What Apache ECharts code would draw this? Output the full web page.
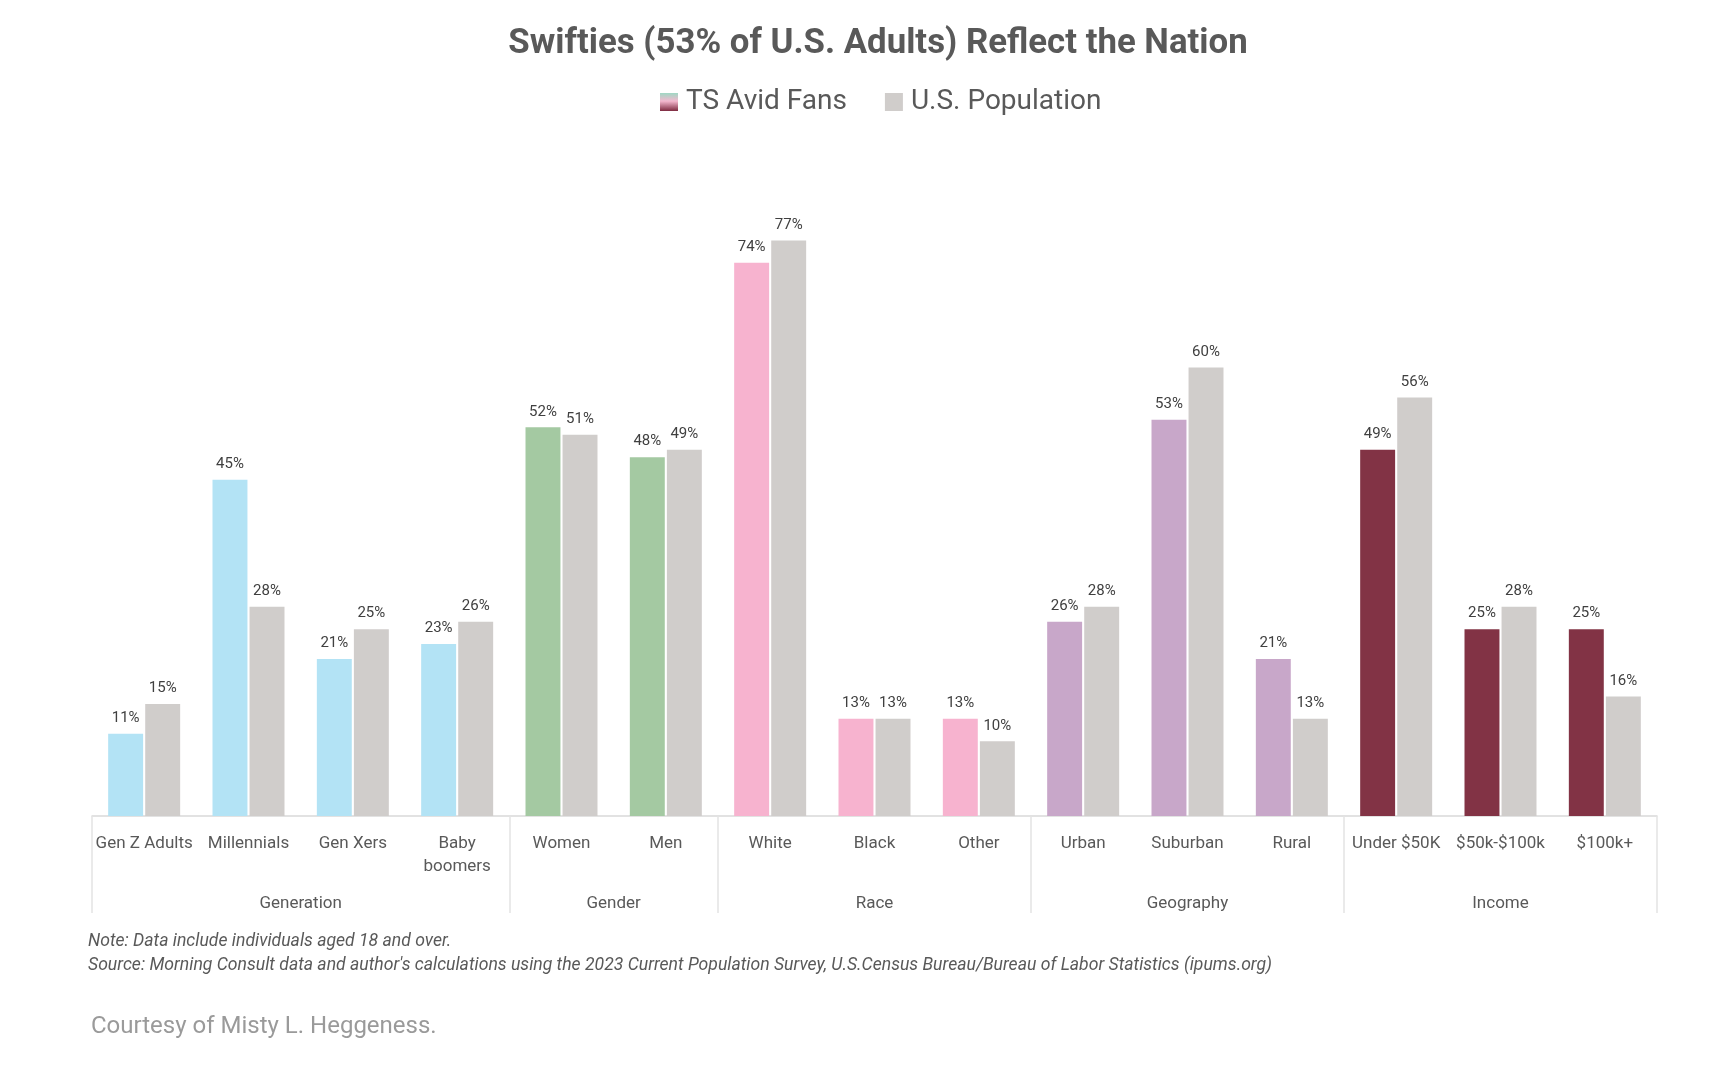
<!DOCTYPE html>
<html>
<head>
<meta charset="utf-8">
<script src="https://cdn.jsdelivr.net/npm/echarts@6/dist/echarts.min.js"></script>
<style>html,body{margin:0;padding:0;background:#fff}#c{width:1720px;height:1072px}</style>
</head>
<body>
<div id="c"></div>
<script>
const categories = ['Gen Z Adults','Millennials','Gen Xers','Baby\nboomers','Women','Men','White','Black','Other','Urban','Suburban','Rural','Under $50K','$50k-$100k','$100k+'];
const groups = ['Generation','Gender','Race','Geography','Income'];
const groupSizes = [4,2,3,3,3];
const tsFans = [11,45,21,23,52,48,74,13,13,26,53,21,49,25,25];
const usPop = [15,28,25,26,51,49,77,13,10,28,60,13,56,28,16];
const groupColors = ['#b3e3f5','#a4c9a2','#f7b3cf','#c8a7c9','#823345'];
const grayColor = '#d0cdcb';

// group boundaries and centres on a 0..15 value scale
const bounds = [0]; groupSizes.forEach(s => bounds.push(bounds[bounds.length-1] + s));
const centres = groupSizes.map((s,i) => bounds[i] + s/2);
const fanColors = [];
groupSizes.forEach((s,i) => { for (let k=0;k<s;k++) fanColors.push(groupColors[i]); });

const chart = echarts.init(document.getElementById('c'));
const FONT = 'Roboto';
chart.setOption({
  backgroundColor: '#fff',
  animation: false,
  title: {
    text: 'Swifties (53% of U.S. Adults) Reflect the Nation',
    left: 873, textAlign: 'center', top: 22,
    textStyle: {fontFamily: FONT, fontSize: 34.8, fontWeight: 'bold', color: '#595959'}
  },
  legend: {
    top: 83, left: 655, itemWidth: 18, itemHeight: 18, itemGap: 38, icon: 'rect',
    textStyle: {fontFamily: FONT, fontSize: 28, color: '#595959', padding: [0,0,0,3]},
    data: ['TS Avid Fans','U.S. Population']
  },
  grid: {left: 92, right: 63, top: 218, bottom: 256},
  xAxis: [{
    type: 'category', data: categories,
    axisLine: {lineStyle: {color: '#d9d9d9', width: 1.5}},
    axisTick: {show: false},
    axisLabel: {interval: 0, margin: 16, fontFamily: FONT, fontSize: 17, color: '#595959', lineHeight: 23}
  },{
    type: 'value', min: 0, max: 15, position: 'bottom',
    axisLine: {show: false},
    splitLine: {show: false},
    axisTick: {show: true, customValues: bounds, length: 97, lineStyle: {color: '#e3e3e3', width: 1.5}},
    axisLabel: {show: true, customValues: centres, margin: 79, fontFamily: FONT, fontSize: 17, color: '#595959',
      formatter: v => { const i = centres.indexOf(v); return i >= 0 ? groups[i] : ''; }}
  }],
  yAxis: {type: 'value', min: 0, max: 80, show: false, splitLine: {show: false}},
  series: [{
    name: 'TS Avid Fans', type: 'bar', xAxisIndex: 0,
    barGap: '6%', barCategoryGap: '31%',
    itemStyle: {color: new echarts.graphic.LinearGradient(0,0,0,1,[
      {offset: 0, color: '#9fd8c4'}, {offset: 0.45, color: '#f4b8cf'}, {offset: 1, color: '#7e2a40'}])},
    data: tsFans.map((v,i) => ({value: v, itemStyle: {color: fanColors[i]}})),
    label: {show: true, position: 'top', distance: 8, formatter: p => p.value + '%', fontFamily: FONT, fontSize: 15, color: '#404040'}
  },{
    name: 'U.S. Population', type: 'bar', xAxisIndex: 0,
    itemStyle: {color: grayColor},
    data: usPop,
    label: {show: true, position: 'top', distance: 8, formatter: p => p.value + '%', fontFamily: FONT, fontSize: 15, color: '#404040'}
  }],
  graphic: [
    {type: 'text', left: 88, top: 933, style: {text: 'Note: Data include individuals aged 18 and over.', font: 'italic 17.6px Roboto', fill: '#595959'}},
    {type: 'text', left: 88, top: 957, style: {text: "Source: Morning Consult data and author's calculations using the 2023 Current Population Survey, U.S.Census Bureau/Bureau of Labor Statistics (ipums.org)", font: 'italic 17.6px Roboto', fill: '#595959'}},
    {type: 'text', left: 91, top: 1015, style: {text: 'Courtesy of Misty L. Heggeness.', font: '24px Roboto', fill: '#9a9a9a'}}
  ]
});
</script>
</body>
</html>
